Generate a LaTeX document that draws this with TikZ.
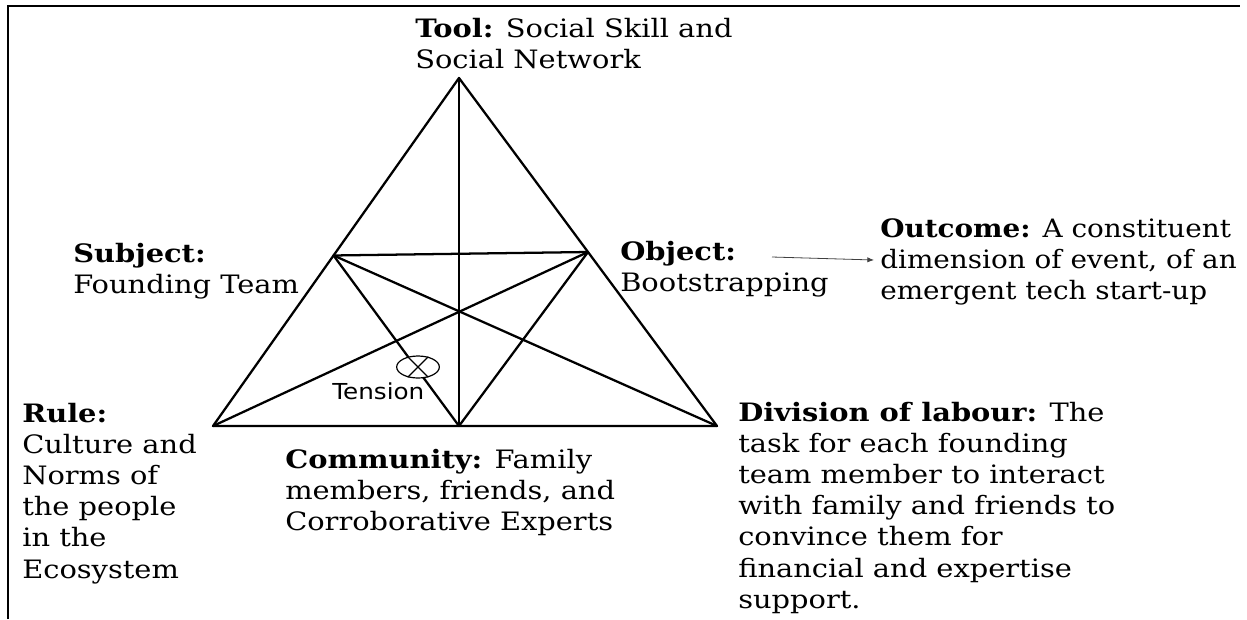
\documentclass[tikz,border=0pt]{standalone}
\usepackage{fontspec}
\setmainfont[FakeStretch=1.14]{DejaVu Serif}
\newfontfamily\outfont[FakeStretch=1.10]{DejaVu Serif}
\newfontfamily\tensionfont[FakeStretch=1.12]{DejaVu Sans}
\usetikzlibrary{arrows.meta,shapes.geometric,calc}
\newcommand{\mlines}[1]{\vtop{\halign{##\hfil\cr#1\crcr}}}
\begin{document}
\begin{tikzpicture}[x=0.75pt,y=-0.75pt,
  edge/.style={line width=1.7pt, line cap=round, line join=round},
  lbl/.style={anchor=base west, inner sep=0pt, font=\fontsize{19}{23.4}\selectfont}]
\useasboundingbox (0,0) rectangle (1247,619);
% frame
\draw[line width=1.6pt] (8,619) -- (8,6) -- (1240,6);
% vertices
\coordinate (T) at (459,78);
\coordinate (R) at (213,426);
\coordinate (D) at (717,426);
\coordinate (C) at (459,426);
\coordinate (S) at ($(T)!0.51!(R)$);
\coordinate (O) at ($(T)!0.5!(D)$);
% lines
\draw[edge] (T) -- (R) -- (D) -- cycle;
\draw[edge] (T) -- (C);
\draw[edge] (S) -- (O);
\draw[edge] (S) -- (D);
\draw[edge] (O) -- (R);
\draw[edge] (S) -- (C);
\draw[edge] (O) -- (C);
% tension
\node[ellipse, draw, line width=0.9pt, fill=white, minimum width=32pt, minimum height=16.5pt, inner sep=0pt] (tens) at (418,367) {};
\draw[line width=0.9pt] (tens.135) -- (tens.-45);
\draw[line width=0.9pt] (tens.225) -- (tens.45);
\node[anchor=base west, inner sep=0pt, font=\tensionfont\fontsize{16.5}{19}\selectfont] (tenslbl) at (332,399) {Tension};
% labels
\node[lbl] (tool) at (415,37) {\mlines{\textbf{Tool:} Social Skill and\cr Social Network}};
\node[lbl] (subj) at (73,262) {\mlines{\textbf{Subject:}\cr Founding Team}};
\node[lbl] (obj) at (620,260) {\mlines{\textbf{Object:}\cr Bootstrapping}};
\node[lbl, font=\outfont\fontsize{19}{23.4}\selectfont] (outc) at (880,237) {\mlines{\textbf{Outcome:} A constituent\cr dimension of event, of an\cr emergent tech start-up}};
\node[lbl] (rule) at (22,422) {\mlines{\textbf{Rule:}\cr Culture and\cr Norms of\cr the people\cr in the\cr Ecosystem}};
\node[lbl] (comm) at (285,468) {\mlines{\textbf{Community:} Family\cr members, friends, and\cr Corroborative Experts}};
\node[lbl] (div) at (738,421) {\mlines{\textbf{Division of labour:} The\cr task for each founding\cr team member to interact\cr with family and friends to\cr convince them for\cr financial and expertise\cr support.}};
% arrow
\coordinate (arrS) at (772,257);
\coordinate (arrE) at (874,260);
\draw[-{Latex[length=5pt,width=4pt]}, line width=0.6pt, black!75] (arrS) -- (arrE);
\end{tikzpicture}
\end{document}
